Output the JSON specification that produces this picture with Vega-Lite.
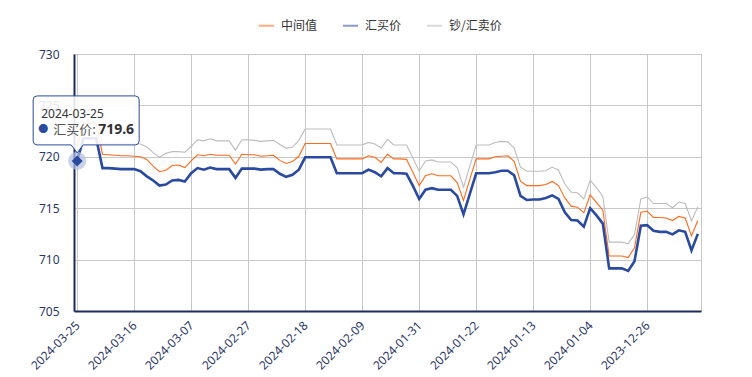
{
  "$schema": "https://vega.github.io/schema/vega-lite/v6.json",
  "width": 627,
  "height": 257,
  "autosize": "none",
  "padding": {"left": 74, "top": 54, "right": 51, "bottom": 66},
  "background": "white",
  "config": {
    "font": "Noto Sans, Noto Sans CJK SC, sans-serif",
    "view": {"stroke": "#c8c8c8", "strokeWidth": 1}
  },
  "datasets": {
    "rates": [
      {"d":"2024-03-25","中间值":720.95,"汇买价":719.6,"钞/汇卖价":722.3},
      {"d":"2024-03-24","中间值":723.25,"汇买价":721.8,"钞/汇卖价":724.5},
      {"d":"2024-03-23","中间值":723.25,"汇买价":721.8,"钞/汇卖价":724.5},
      {"d":"2024-03-22","中间值":723.25,"汇买价":721.8,"钞/汇卖价":724.5},
      {"d":"2024-03-21","中间值":720.25,"汇买价":718.9,"钞/汇卖价":721.3},
      {"d":"2024-03-20","中间值":720.2,"汇买价":718.9,"钞/汇卖价":721.3},
      {"d":"2024-03-19","中间值":720.15,"汇买价":718.85,"钞/汇卖价":721.3},
      {"d":"2024-03-18","中间值":720.1,"汇买价":718.8,"钞/汇卖价":721.3},
      {"d":"2024-03-17","中间值":720.1,"汇买价":718.8,"钞/汇卖价":721.3},
      {"d":"2024-03-16","中间值":720.05,"汇买价":718.8,"钞/汇卖价":721.3},
      {"d":"2024-03-15","中间值":720.0,"汇买价":718.6,"钞/汇卖价":721.25},
      {"d":"2024-03-14","中间值":719.75,"汇买价":718.1,"钞/汇卖价":720.95},
      {"d":"2024-03-13","中间值":719.1,"汇买价":717.7,"钞/汇卖价":720.4},
      {"d":"2024-03-12","中间值":718.55,"汇买价":717.2,"钞/汇卖价":719.95},
      {"d":"2024-03-11","中间值":718.7,"汇买价":717.3,"钞/汇卖价":720.35},
      {"d":"2024-03-10","中间值":719.15,"汇买价":717.7,"钞/汇卖价":720.5},
      {"d":"2024-03-09","中间值":719.2,"汇买价":717.75,"钞/汇卖价":720.5},
      {"d":"2024-03-08","中间值":718.95,"汇买价":717.6,"钞/汇卖价":720.45},
      {"d":"2024-03-07","中间值":719.6,"汇买价":718.4,"钞/汇卖价":721.0},
      {"d":"2024-03-06","中间值":720.2,"汇买价":718.9,"钞/汇卖价":721.65},
      {"d":"2024-03-05","中间值":720.1,"汇买价":718.75,"钞/汇卖价":721.55},
      {"d":"2024-03-04","中间值":720.25,"汇买价":718.95,"钞/汇卖价":721.75},
      {"d":"2024-03-03","中间值":720.15,"汇买价":718.8,"钞/汇卖价":721.55},
      {"d":"2024-03-02","中间值":720.15,"汇买价":718.8,"钞/汇卖价":721.55},
      {"d":"2024-03-01","中间值":720.15,"汇买价":718.8,"钞/汇卖价":721.55},
      {"d":"2024-02-29","中间值":719.3,"汇买价":717.95,"钞/汇卖价":720.65},
      {"d":"2024-02-28","中间值":720.25,"汇买价":718.85,"钞/汇卖价":721.65},
      {"d":"2024-02-27","中间值":720.2,"汇买价":718.85,"钞/汇卖价":721.65},
      {"d":"2024-02-26","中间值":720.2,"汇买价":718.85,"钞/汇卖价":721.6},
      {"d":"2024-02-25","中间值":720.05,"汇买价":718.75,"钞/汇卖价":721.5},
      {"d":"2024-02-24","中间值":720.1,"汇买价":718.8,"钞/汇卖价":721.55},
      {"d":"2024-02-23","中间值":720.15,"汇买价":718.8,"钞/汇卖价":721.6},
      {"d":"2024-02-22","中间值":719.65,"汇买价":718.35,"钞/汇卖价":721.2},
      {"d":"2024-02-21","中间值":719.35,"汇买价":718.05,"钞/汇卖价":720.85},
      {"d":"2024-02-20","中间值":719.55,"汇买价":718.25,"钞/汇卖价":720.95},
      {"d":"2024-02-19","中间值":720.05,"汇买价":718.75,"钞/汇卖价":721.6},
      {"d":"2024-02-18","中间值":721.3,"汇买价":719.95,"钞/汇卖价":722.7},
      {"d":"2024-02-17","中间值":721.3,"汇买价":719.95,"钞/汇卖价":722.7},
      {"d":"2024-02-16","中间值":721.3,"汇买价":719.95,"钞/汇卖价":722.7},
      {"d":"2024-02-15","中间值":721.3,"汇买价":719.95,"钞/汇卖价":722.7},
      {"d":"2024-02-14","中间值":721.3,"汇买价":719.95,"钞/汇卖价":722.7},
      {"d":"2024-02-13","中间值":719.8,"汇买价":718.4,"钞/汇卖价":721.15},
      {"d":"2024-02-12","中间值":719.8,"汇买价":718.4,"钞/汇卖价":721.15},
      {"d":"2024-02-11","中间值":719.8,"汇买价":718.4,"钞/汇卖价":721.15},
      {"d":"2024-02-10","中间值":719.8,"汇买价":718.4,"钞/汇卖价":721.15},
      {"d":"2024-02-09","中间值":719.8,"汇买价":718.4,"钞/汇卖价":721.15},
      {"d":"2024-02-08","中间值":720.1,"汇买价":718.75,"钞/汇卖价":721.4},
      {"d":"2024-02-07","中间值":719.95,"汇买价":718.5,"钞/汇卖价":721.25},
      {"d":"2024-02-06","中间值":719.45,"汇买价":718.1,"钞/汇卖价":720.85},
      {"d":"2024-02-05","中间值":720.25,"汇买价":718.9,"钞/汇卖价":721.7},
      {"d":"2024-02-04","中间值":719.8,"汇买价":718.4,"钞/汇卖价":721.15},
      {"d":"2024-02-03","中间值":719.8,"汇买价":718.4,"钞/汇卖价":721.15},
      {"d":"2024-02-02","中间值":719.75,"汇买价":718.35,"钞/汇卖价":721.15},
      {"d":"2024-02-01","中间值":718.5,"汇买价":717.2,"钞/汇卖价":719.9},
      {"d":"2024-01-31","中间值":717.2,"汇买价":715.9,"钞/汇卖价":718.6},
      {"d":"2024-01-30","中间值":718.15,"汇买价":716.8,"钞/汇卖价":719.6},
      {"d":"2024-01-29","中间值":718.35,"汇买价":716.95,"钞/汇卖价":719.7},
      {"d":"2024-01-28","中间值":718.15,"汇买价":716.8,"钞/汇卖价":719.5},
      {"d":"2024-01-27","中间值":718.15,"汇买价":716.8,"钞/汇卖价":719.5},
      {"d":"2024-01-26","中间值":718.15,"汇买价":716.8,"钞/汇卖价":719.5},
      {"d":"2024-01-25","中间值":717.5,"汇买价":716.2,"钞/汇卖价":718.95},
      {"d":"2024-01-24","中间值":715.75,"汇买价":714.4,"钞/汇卖价":717.05},
      {"d":"2024-01-23","中间值":717.8,"汇买价":716.4,"钞/汇卖价":719.1},
      {"d":"2024-01-22","中间值":719.8,"汇买价":718.4,"钞/汇卖价":721.15},
      {"d":"2024-01-21","中间值":719.8,"汇买价":718.4,"钞/汇卖价":721.15},
      {"d":"2024-01-20","中间值":719.8,"汇买价":718.4,"钞/汇卖价":721.15},
      {"d":"2024-01-19","中间值":720.0,"汇买价":718.5,"钞/汇卖价":721.4},
      {"d":"2024-01-18","中间值":720.05,"汇买价":718.65,"钞/汇卖价":721.5},
      {"d":"2024-01-17","中间值":720.1,"汇买价":718.65,"钞/汇卖价":721.45},
      {"d":"2024-01-16","中间值":719.55,"汇买价":718.2,"钞/汇卖价":720.85},
      {"d":"2024-01-15","中间值":717.6,"汇买价":716.2,"钞/汇卖价":719.0},
      {"d":"2024-01-14","中间值":717.2,"汇买价":715.8,"钞/汇卖价":718.6},
      {"d":"2024-01-13","中间值":717.2,"汇买价":715.85,"钞/汇卖价":718.6},
      {"d":"2024-01-12","中间值":717.2,"汇买价":715.85,"钞/汇卖价":718.6},
      {"d":"2024-01-11","中间值":717.3,"汇买价":716.0,"钞/汇卖价":718.65},
      {"d":"2024-01-10","中间值":717.6,"汇买价":716.25,"钞/汇卖价":719.0},
      {"d":"2024-01-09","中间值":717.2,"汇买价":715.9,"钞/汇卖价":718.7},
      {"d":"2024-01-08","中间值":716.0,"汇买价":714.6,"钞/汇卖价":717.35},
      {"d":"2024-01-07","中间值":715.2,"汇买价":713.85,"钞/汇卖价":716.55},
      {"d":"2024-01-06","中间值":715.1,"汇买价":713.8,"钞/汇卖价":716.5},
      {"d":"2024-01-05","中间值":714.55,"汇买价":713.2,"钞/汇卖价":715.9},
      {"d":"2024-01-04","中间值":716.3,"汇买价":715.0,"钞/汇卖价":717.7},
      {"d":"2024-01-03","中间值":715.55,"汇买价":714.3,"钞/汇卖价":717.0},
      {"d":"2024-01-02","中间值":714.8,"汇买价":713.5,"钞/汇卖价":716.15},
      {"d":"2024-01-01","中间值":710.35,"汇买价":709.15,"钞/汇卖价":711.7},
      {"d":"2023-12-31","中间值":710.35,"汇买价":709.15,"钞/汇卖价":711.7},
      {"d":"2023-12-30","中间值":710.35,"汇买价":709.15,"钞/汇卖价":711.7},
      {"d":"2023-12-29","中间值":710.2,"汇买价":708.9,"钞/汇卖价":711.55},
      {"d":"2023-12-28","中间值":711.15,"汇买价":709.85,"钞/汇卖价":712.45},
      {"d":"2023-12-27","中间值":714.6,"汇买价":713.3,"钞/汇卖价":715.9},
      {"d":"2023-12-26","中间值":714.7,"汇买价":713.35,"钞/汇卖价":716.1},
      {"d":"2023-12-25","中间值":714.1,"汇买价":712.8,"钞/汇卖价":715.45},
      {"d":"2023-12-24","中间值":714.1,"汇买价":712.7,"钞/汇卖价":715.45},
      {"d":"2023-12-23","中间值":714.05,"汇买价":712.7,"钞/汇卖价":715.45},
      {"d":"2023-12-22","中间值":713.8,"汇买价":712.45,"钞/汇卖价":715.05},
      {"d":"2023-12-21","中间值":714.2,"汇买价":712.85,"钞/汇卖价":715.6},
      {"d":"2023-12-20","中间值":714.05,"汇买价":712.7,"钞/汇卖价":715.45},
      {"d":"2023-12-19","中间值":712.3,"汇买价":710.9,"钞/汇卖价":713.75},
      {"d":"2023-12-18","中间值":713.8,"汇买价":712.5,"钞/汇卖价":715.15}
    ],
    "tip": [{"d":"2024-03-25","v":719.6}]
  },
  "layer": [
    {
      "data": {"name": "rates"},
      "transform": [{"fold": ["中间值","汇买价","钞/汇卖价"], "as": ["s","v"]}],
      "mark": {"type": "line", "interpolate": "linear"},
      "encoding": {
        "x": {
          "field": "d", "type": "ordinal", "sort": null,
          "scale": {"type": "point", "padding": 0.5},
          "axis": {
            "title": null,
            "values": ["2024-03-25","2024-03-16","2024-03-07","2024-02-27","2024-02-18","2024-02-09","2024-01-31","2024-01-22","2024-01-13","2024-01-04","2023-12-26"],
            "labelAngle": -45, "labelAlign": "right", "labelBaseline": "middle",
            "labelFontSize": 12, "labelColor": "#2b3764", "labelPadding": 12,
            "domainColor": "#1f2b5b", "domainWidth": 2,
            "ticks": false,
            "grid": true, "gridColor": "#c8c8c8", "gridWidth": 1
          }
        },
        "y": {
          "field": "v", "type": "quantitative",
          "scale": {"domain": [705, 730], "nice": false, "zero": false},
          "axis": {
            "title": null,
            "values": [705, 710, 715, 720, 725, 730],
            "labelFontSize": 12, "labelColor": "#2b3764", "labelPadding": 15,
            "domainColor": "#1f2b5b", "domainWidth": 2,
            "ticks": false,
            "grid": true, "gridColor": "#c8c8c8", "gridWidth": 1
          }
        },
        "color": {
          "field": "s", "type": "nominal",
          "scale": {"domain": ["中间值","汇买价","钞/汇卖价"], "range": ["#ff6a1c","#2a4a9f","#bdbdbd"]},
          "legend": {
            "orient": "none", "legendX": 184, "legendY": -37,
            "direction": "horizontal", "title": null,
            "symbolType": "stroke", "symbolSize": 225, "symbolStrokeWidth": 2, "symbolOpacity": 0.55,
            "labelFontSize": 12, "labelColor": "#333333", "labelOffset": 6, "columnPadding": 21,
            "labelFont": "Noto Sans CJK SC"
          }
        },
        "strokeWidth": {
          "condition": {"test": "datum.s === '汇买价'", "value": 2.6},
          "value": 1.1
        }
      }
    },
    {
      "data": {"name": "tip"},
      "mark": {"type": "point", "shape": "circle", "size": 330, "filled": true, "color": "#b4bfe0", "opacity": 0.7},
      "encoding": {
        "x": {"field": "d", "type": "ordinal", "sort": null},
        "y": {"field": "v", "type": "quantitative"}
      }
    },
    {
      "data": {"name": "tip"},
      "mark": {"type": "point", "shape": "diamond", "size": 121, "filled": true, "color": "#2a4a9f", "opacity": 1},
      "encoding": {
        "x": {"field": "d", "type": "ordinal", "sort": null},
        "y": {"field": "v", "type": "quantitative"}
      }
    },
    {
      "data": {"name": "tip"},
      "mark": {
        "type": "point",
        "shape": "M-40,-65L58,-65Q62,-65 62,-61L62,-20Q62,-16 58,-16L6,-16L0,-8L-6,-16L-40,-16Q-44,-16 -44,-20L-44,-61Q-44,-65 -40,-65Z",
        "size": 4, "filled": true, "fill": "#ffffff", "fillOpacity": 0.88,
        "stroke": "#2a4a9f", "strokeWidth": 1, "opacity": 1
      },
      "encoding": {
        "x": {"field": "d", "type": "ordinal", "sort": null},
        "y": {"field": "v", "type": "quantitative"}
      }
    },
    {
      "data": {"name": "tip"},
      "mark": {"type": "text", "text": "2024-03-25", "align": "left", "baseline": "middle", "dx": -36, "dy": -47, "fontSize": 12, "color": "#333333"},
      "encoding": {
        "x": {"field": "d", "type": "ordinal", "sort": null},
        "y": {"field": "v", "type": "quantitative"}
      }
    },
    {
      "data": {"name": "tip"},
      "mark": {"type": "text", "text": "●", "align": "center", "baseline": "middle", "dx": -34, "dy": -31, "fontSize": 10, "color": "#2a4a9f"},
      "encoding": {
        "x": {"field": "d", "type": "ordinal", "sort": null},
        "y": {"field": "v", "type": "quantitative"}
      }
    },
    {
      "data": {"name": "tip"},
      "mark": {"type": "text", "text": "汇买价:", "align": "left", "baseline": "middle", "dx": -24, "dy": -31, "fontSize": 13, "font": "Noto Sans CJK SC", "color": "#555555"},
      "encoding": {
        "x": {"field": "d", "type": "ordinal", "sort": null},
        "y": {"field": "v", "type": "quantitative"}
      }
    },
    {
      "data": {"name": "tip"},
      "mark": {"type": "text", "text": "719.6", "align": "left", "baseline": "middle", "dx": 21, "dy": -31, "fontSize": 14, "fontWeight": "bold", "color": "#333333"},
      "encoding": {
        "x": {"field": "d", "type": "ordinal", "sort": null},
        "y": {"field": "v", "type": "quantitative"}
      }
    }
  ]
}
